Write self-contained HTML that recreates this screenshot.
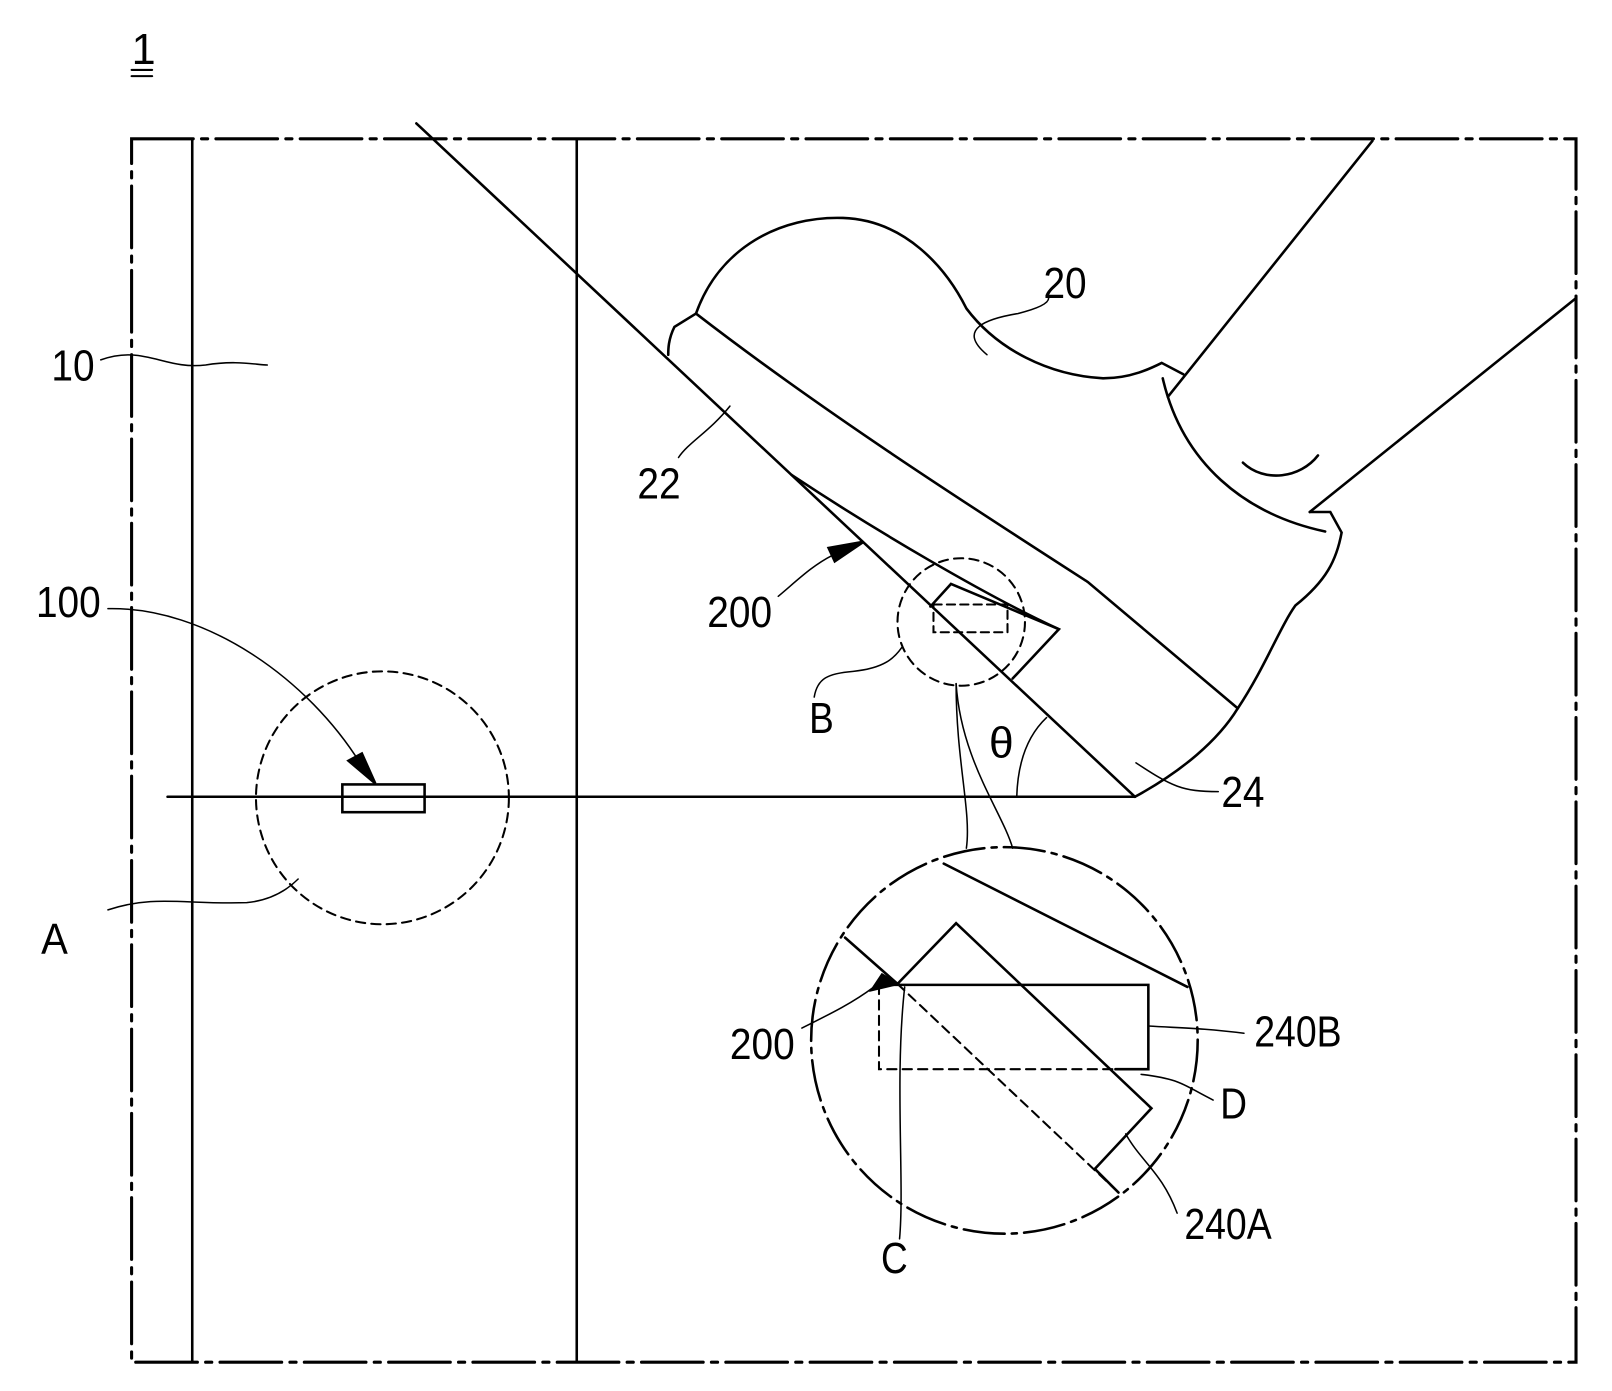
<!DOCTYPE html>
<html><head><meta charset="utf-8"><style>
html,body{margin:0;padding:0;background:#fff;}
svg{display:block}
text{font-family:"Liberation Sans",sans-serif;font-size:42px;fill:#000}
</style></head><body>
<svg width="1612" height="1391" viewBox="0 0 1568 1353" xmlns="http://www.w3.org/2000/svg" fill="none" stroke="#000" stroke-width="2.5" stroke-linecap="round">
<g>
<text x="128" y="62" stroke="none">1</text>
<line x1="128" y1="68" x2="148" y2="68" stroke-width="2"/>
<line x1="128" y1="74" x2="148" y2="74" stroke-width="2"/>
</g>
<rect x="128" y="135" width="1405" height="1190" stroke-width="3" stroke-dasharray="60,8,6,8"/>
<line x1="187" y1="135" x2="187" y2="1325"/>
<line x1="561" y1="135" x2="561" y2="1325"/>
<line x1="405" y1="120" x2="1104" y2="775"/>
<line x1="163" y1="775" x2="1104" y2="775"/>
<rect x="333" y="763" width="80" height="27"/>
<circle cx="372" cy="776" r="123" stroke-dasharray="9,6" stroke-width="2"/>
<path d="M105 592 C200 590 300 660 352 745" stroke-width="1.5"/>
<polygon points="365,762 339,740 352,733" fill="#000"/>
<g>
<path d="M677 305 C700 240 760 210 820 212 C880 214 920 260 940 300 C970 340 1020 365 1073 368 C1100 368 1120 358 1130 353 L1151 364"/>
<line x1="1136" y1="386" x2="1335" y2="137"/>
<line x1="1274" y1="498" x2="1533" y2="290"/>
<path d="M1131 368 C1150 450 1210 500 1289 517"/>
<path d="M1209 450 C1230 470 1265 465 1282 443"/>
<path d="M677 305 L656 318 C650 330 650 340 650 345"/>
<path d="M677 305 C800 400 940 490 1058 566 L1204 689"/>
<path d="M1104 775 C1150 750 1185 720 1204 689 C1230 650 1245 610 1260 589 C1290 565 1300 545 1305 518 L1294 498 L1274 498"/>
<path d="M770 462 C850 515 960 580 1030 612"/>
</g>
<g>
<polyline points="905,590 925,568 1030,612 985,660"/>
<rect x="908" y="588" width="72" height="27" stroke-dasharray="8,5" stroke-width="2"/>
</g>
<circle cx="935" cy="605" r="62" stroke-dasharray="9,6" stroke-width="2"/>
<path d="M989 775 C990 740 1000 715 1018 698" stroke-width="1.5"/>
<path d="M930 665 C930 740 945 790 940 825" stroke-width="1.5"/>
<path d="M930 665 C935 740 975 790 985 825" stroke-width="1.5"/>
<circle cx="977" cy="1012" r="188" stroke-width="2.5" stroke-dasharray="40,7,5,7"/>
<g>
<line x1="918" y1="840" x2="1155" y2="960"/>
<line x1="822" y1="912" x2="873" y2="957"/>
<polyline points="873,957 930,898 1120,1078 1065,1137"/>
<line x1="1065" y1="1137" x2="1088" y2="1160"/>
<line x1="873" y1="957" x2="1088" y2="1160" stroke-dasharray="9,6" stroke-width="2"/>
<polyline points="855,958 1117,958 1117,1040 1085,1040"/>
<polyline points="855,958 855,1040 1085,1040" stroke-dasharray="9,6" stroke-width="2"/>
</g>
<polygon points="873,957 848,963 858,948" fill="#000"/>
<path d="M780 1000 C810 985 830 975 850 960" stroke-width="1.5"/>
<polygon points="840,527 812,546 806,533" fill="#000"/>
<path d="M757 580 C775 565 790 550 810 540" stroke-width="1.5"/>
<g stroke-width="1.5">
<path d="M98 350 C140 335 160 360 200 355 C230 350 250 355 260 355"/>
<path d="M960 345 C930 320 960 310 990 305 C1010 300 1020 295 1020 290"/>
<path d="M660 445 C670 430 690 420 710 395"/>
<path d="M792 678 C795 660 805 655 830 653 C860 650 870 640 877 630"/>
<path d="M105 885 C150 870 180 880 240 878 C270 875 285 860 290 855"/>
<path d="M1185 770 C1150 770 1140 765 1105 742"/>
<path d="M1210 1005 C1170 1000 1150 1000 1117 998"/>
<path d="M1180 1070 C1150 1055 1150 1050 1110 1045"/>
<path d="M1145 1180 C1130 1140 1110 1130 1095 1103"/>
<path d="M875 1205 C880 1150 870 1050 880 960"/>
</g>
<g stroke="none">
<text x="50" y="370" textLength="42" lengthAdjust="spacingAndGlyphs">10</text>
<text x="1015" y="290" textLength="42" lengthAdjust="spacingAndGlyphs">20</text>
<text x="620" y="485" textLength="42" lengthAdjust="spacingAndGlyphs">22</text>
<text x="688" y="610" textLength="63" lengthAdjust="spacingAndGlyphs">200</text>
<text x="35" y="600" textLength="63" lengthAdjust="spacingAndGlyphs">100</text>
<text x="787" y="713" textLength="24" lengthAdjust="spacingAndGlyphs">B</text>
<text x="962" y="737" textLength="24" lengthAdjust="spacingAndGlyphs">θ</text>
<text x="1188" y="785" textLength="42" lengthAdjust="spacingAndGlyphs">24</text>
<text x="40" y="928" textLength="26" lengthAdjust="spacingAndGlyphs">A</text>
<text x="710" y="1030" textLength="63" lengthAdjust="spacingAndGlyphs">200</text>
<text x="1220" y="1018" textLength="85" lengthAdjust="spacingAndGlyphs">240B</text>
<text x="1187" y="1088" textLength="26" lengthAdjust="spacingAndGlyphs">D</text>
<text x="1152" y="1205" textLength="85" lengthAdjust="spacingAndGlyphs">240A</text>
<text x="857" y="1238" textLength="26" lengthAdjust="spacingAndGlyphs">C</text>
</g>
</svg>
</body></html>
